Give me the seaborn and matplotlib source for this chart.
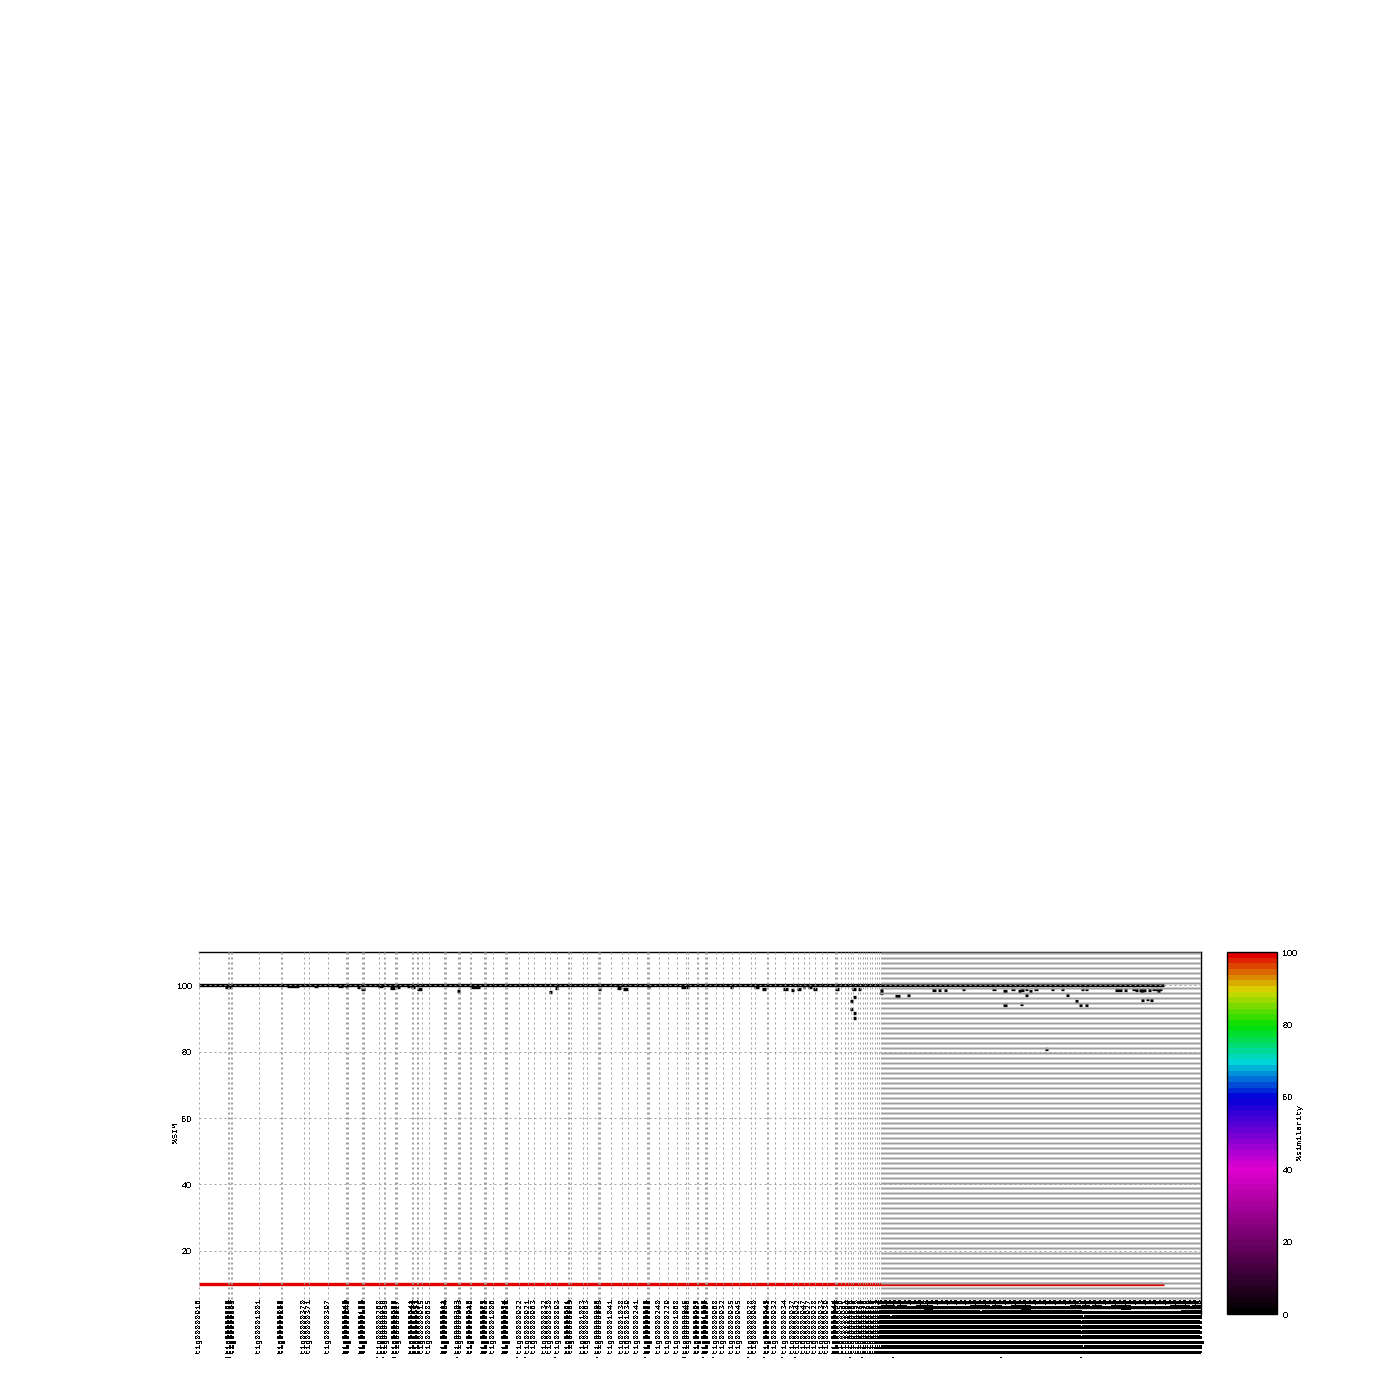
import matplotlib
matplotlib.use("Agg")
import matplotlib.pyplot as plt
from matplotlib.cm import ScalarMappable
from matplotlib.colors import LinearSegmentedColormap, Normalize
import pandas as pd
import seaborn as sns

# Contig boundaries along the query axis (x unit = one pixel of the plot)
tick_pos = [0, 29, 30, 32, 33, 60, 82, 83, 105, 110, 129, 147, 148, 149, 163, 164, 165, 180, 185, 186,
            196, 197, 198, 213, 214, 218, 219, 223, 230, 245, 246, 247, 259, 260, 261, 271, 272, 285, 286, 287,
            294, 306, 307, 308, 320, 329, 335, 346, 351, 358, 369, 370, 372, 384, 388, 399, 400, 401, 412, 423,
            429, 438, 448, 449, 450, 460, 469, 478, 487, 489, 498, 499, 506, 507, 508, 517, 524, 533, 540, 552,
            556, 568, 569, 576, 586, 594, 599, 605, 610, 616, 623, 628, 636, 637, 638, 642, 646, 649, 652, 654,
            659, 661, 664, 666, 668, 671, 673, 676, 678, 680]
# Contig ids: the legible ones, overlapped ones estimated
tick_ids = [916, 863, 880, 889, 895, 1001, 88, 108, 370, 371, 397, 949, 960, 140, 188, 180, 160, 268, 958, 835,
            955, 957, 927, 941, 914, 931, 982, 915, 685, 911, 974, 904, 303, 923, 393, 916, 946, 972, 973, 952,
            1006, 924, 929, 921, 922, 921, 963, 832, 830, 893, 921, 951, 963, 1083, 863, 906, 905, 963, 1041, 1038,
            1039, 241, 962, 959, 988, 240, 229, 1068, 945, 946, 995, 987, 1003, 1005, 1007, 968, 932, 935, 945, 978,
            940, 943, 948, 932, 934, 937, 942, 947, 927, 928, 933, 939, 944, 949, 953, 956, 961, 964, 966, 969,
            970, 971, 975, 976, 977, 979, 980, 981, 983, 984]

# The right-hand part of the axis has a boundary on nearly every pixel
dense_pos = [682, 683, 684, 685, 686, 687, 688, 689, 690, 691, 692, 693, 694, 695, 696, 697, 698, 699, 700, 701,
             702, 703, 704, 705, 706, 707, 708, 709, 710, 711, 712, 713, 714, 715, 716, 717, 718, 719, 720, 721,
             722, 723, 724, 725, 726, 727, 728, 729, 730, 731, 732, 733, 734, 735, 736, 737, 738, 739, 740, 741,
             742, 743, 744, 745, 746, 747, 748, 749, 750, 751, 752, 753, 754, 755, 756, 757, 758, 759, 760, 761,
             762, 763, 764, 765, 766, 767, 768, 769, 770, 771, 772, 773, 774, 775, 776, 777, 778, 779, 780, 781,
             782, 783, 784, 785, 786, 787, 788, 789, 790, 791, 792, 793, 794, 795, 796, 797, 798, 799, 800, 801,
             802, 803, 804, 805, 806, 807, 808, 809, 810, 811, 812, 813, 814, 815, 816, 817, 818, 819, 820, 821,
             822, 823, 824, 825, 826, 827, 828, 829, 830, 831, 832, 833, 834, 835, 836, 837, 838, 839, 840, 841,
             842, 843, 844, 845, 846, 847, 848, 849, 850, 851, 852, 853, 854, 855, 856, 857, 858, 859, 860, 861,
             862, 863, 864, 865, 866, 867, 868, 869, 870, 871, 872, 873, 874, 875, 876, 877, 878, 879, 880, 881,
             882, 883, 884, 885, 886, 887, 888, 889, 890, 891, 892, 893, 894, 895, 896, 897, 898, 899, 900, 901,
             902, 903, 904, 905, 906, 907, 908, 909, 910, 911, 912, 913, 914, 915, 916, 917, 918, 919, 920, 921,
             922, 923, 924, 925, 926, 927, 928, 929, 930, 931, 932, 933, 934, 935, 936, 937, 938, 939, 940, 941,
             942, 943, 944, 945, 946, 947, 948, 949, 950, 951, 952, 953, 954, 955, 956, 957, 958, 959, 960, 961,
             962, 963, 964, 965, 966, 967, 968, 969, 970, 971, 972, 973, 974, 975, 976, 977, 978, 979, 980, 981,
             982, 983, 984, 985, 986, 987, 988, 989, 990, 991, 992, 993, 994, 995, 996, 997, 998, 999, 1000, 1001,
             1002]
# Unreadable in the picture, these ids are estimates
dense_ids = [986, 989, 990, 991, 992, 993, 994, 996, 997, 998, 999, 1000, 1002, 1004, 1008, 1009, 1010, 1011, 1012, 1013,
             1014, 1015, 1016, 1017, 1018, 1019, 1020, 1021, 1022, 1023, 1024, 1025, 1026, 1027, 1028, 1029, 1030, 1031, 1032, 1033,
             1034, 1035, 1036, 1037, 1040, 1042, 1043, 1044, 1045, 1046, 1047, 1048, 1049, 1050, 1051, 1052, 1053, 1054, 1055, 1056,
             1057, 1058, 1059, 1060, 1061, 1062, 1063, 1064, 1065, 1066, 1067, 1069, 1070, 1071, 1072, 1073, 1074, 1075, 1076, 1077,
             1078, 1079, 1080, 1081, 1082, 1084, 1085, 1086, 1087, 1088, 1089, 1090, 1091, 1092, 1093, 1094, 1095, 1096, 1097, 1098,
             1099, 1100, 1101, 1102, 1103, 1104, 1105, 1106, 1107, 1108, 1109, 1110, 1111, 1112, 1113, 1114, 1115, 1116, 1117, 1118,
             1119, 1120, 1121, 1122, 1123, 1124, 1125, 1126, 1127, 1128, 1129, 1130, 1131, 1132, 1133, 1134, 1135, 1136, 1137, 1138,
             1139, 1140, 1141, 1142, 1143, 1144, 1145, 1146, 1147, 1148, 1149, 1150, 1151, 1152, 1153, 1154, 1155, 1156, 1157, 1158,
             1159, 1160, 1161, 1162, 1163, 1164, 1165, 1166, 1167, 1168, 1169, 1170, 1171, 1172, 1173, 1174, 1175, 1176, 1177, 1178,
             1179, 1180, 1181, 1182, 1183, 1184, 1185, 1186, 1187, 1188, 1189, 1190, 1191, 1192, 1193, 1194, 1195, 1196, 1197, 1198,
             1199, 1200, 1201, 1202, 1203, 1204, 1205, 1206, 1207, 1208, 1209, 1210, 1211, 1212, 1213, 1214, 1215, 1216, 1217, 1218,
             1219, 1220, 1221, 1222, 1223, 1224, 1225, 1226, 1227, 1228, 1229, 1230, 1231, 1232, 1233, 1234, 1235, 1236, 1237, 1238,
             1239, 1240, 1241, 1242, 1243, 1244, 1245, 1246, 1247, 1248, 1249, 1250, 1251, 1252, 1253, 1254, 1255, 1256, 1257, 1258,
             1259, 1260, 1261, 1262, 1263, 1264, 1265, 1266, 1267, 1268, 1269, 1270, 1271, 1272, 1273, 1274, 1275, 1276, 1277, 1278,
             1279, 1280, 1281, 1282, 1283, 1284, 1285, 1286, 1287, 1288, 1289, 1290, 1291, 1292, 1293, 1294, 1295, 1296, 1297, 1298,
             1299, 1300, 1301, 1302, 1303, 1304, 1305, 1306, 1307, 1308, 1309, 1310, 1311, 1312, 1313, 1314, 1315, 1316, 1317, 1318,
             1319]
# Boundaries whose label carries the leading star
star_pos = [29, 30, 32, 33, 180, 186, 197, 198, 260, 320, 329, 358, 400, 449, 487, 489, 507, 517, 552, 568,
            586, 599, 654, 666, 697, 805, 884]

# Main alignment at ~100% and reference line at the bottom
main_x = [0, 965]
main_sim = [100, 100]
ref_x = [0, 965]
ref_sim = [10, 10]

# Short alignments below the main line
seg_start = [26, 88, 115, 139, 146, 158, 162, 179, 191, 196, 208, 212, 218, 258, 271, 350, 356, 399, 418, 424,
             448, 482, 531, 555, 563, 584, 592, 598, 604, 609, 614, 636, 653, 659, 681, 681, 696, 708, 733, 739,
             745, 763, 654, 651, 651, 654, 654, 793, 804, 812, 819, 821, 826, 830, 835, 852, 862, 882, 886, 916,
             925, 933, 936, 940, 941, 949, 953, 958, 959, 826, 867, 876, 880, 886, 804, 821, 942, 947, 951, 846]
seg_end = [33, 100, 119, 144, 149, 161, 166, 184, 196, 201, 211, 216, 223, 261, 281, 353, 359, 402, 422, 429,
           451, 490, 534, 560, 567, 589, 595, 602, 606, 613, 618, 640, 657, 662, 684, 684, 701, 711, 737, 742,
           748, 766, 657, 654, 654, 657, 657, 797, 808, 816, 822, 825, 829, 833, 839, 855, 865, 885, 889, 923,
           928, 937, 939, 947, 945, 952, 959, 961, 963, 829, 870, 879, 883, 889, 808, 824, 945, 950, 954, 849]
seg_sim = [99.6, 99.7, 99.7, 99.7, 99.7, 99.4, 98.9, 99.7, 99.2, 99.5, 99.7, 99.5, 98.8, 98.4, 99.6, 98.0, 99.2, 99.0, 99.2, 98.9,
           99.4, 99.6, 99.4, 99.5, 99.0, 98.9, 98.5, 98.9, 99.4, 99.5, 98.9, 98.9, 99.0, 98.9, 98.7, 97.6, 96.9, 97.0, 98.7, 98.5,
           98.5, 99.0, 96.6, 95.2, 92.8, 91.6, 90.1, 98.9, 98.4, 98.9, 98.2, 98.6, 98.9, 98.4, 98.9, 98.9, 98.9, 98.9, 98.9, 98.5,
           98.7, 98.9, 98.7, 98.7, 98.2, 98.7, 98.9, 98.3, 98.8, 97.1, 97.1, 95.3, 94.1, 94.1, 94.1, 94.3, 95.5, 95.9, 95.5, 80.8]

y_ticks = [20, 40, 60, 80, 100]
cbar_ticks = [0, 20, 40, 60, 80, 100]

# Palette stops of the %similarity scale
palette_stops = [(0.0, "#000000"), (0.4, "#e000d0"), (0.6, "#0000d8"), (0.7, "#00d8d8"),
                 (0.8, "#00e000"), (0.9, "#d8d800"), (1.0, "#e00000")]


def main():
    sns.set_theme(style="white")
    # Mono fonts here have a dotted zero that turns into an 8 at this size,
    # so the plain numbers use a sans and only the labels stay mono
    plt.rcParams["font.family"] = "Liberation Sans"
    plt.rcParams["text.antialiased"] = False
    num_size = 6.5
    mono_size = 6.0
    grid_color = "#a0a0a0"

    fig = plt.figure(figsize=(14, 14), dpi=100)
    ax = fig.add_axes([199 / 1400, 1 - 1314 / 1400, 1002 / 1400, 362 / 1400])

    # Alignments, each one drawn as its own short line
    segs = pd.DataFrame({"seg": list(range(len(seg_start))) * 2,
                         "x": seg_start + seg_end,
                         "sim": seg_sim + seg_sim})
    sns.lineplot(data=segs, x="x", y="sim", units="seg", estimator=None, sort=False,
                 color="black", linewidth=2.4, solid_capstyle="butt", ax=ax)
    sns.lineplot(x=main_x, y=main_sim, estimator=None, sort=False,
                 color="black", linewidth=2.4, solid_capstyle="butt", ax=ax)
    sns.lineplot(x=ref_x, y=ref_sim, estimator=None, sort=False,
                 color="#e00000", linewidth=2.4, solid_capstyle="butt", ax=ax)

    ax.set_xlim(0, 1002)
    ax.set_ylim(1, 110)

    all_pos = tick_pos + dense_pos
    all_ids = tick_ids + dense_ids
    labels = []
    for pos, tig in zip(all_pos, all_ids):
        star = "*" if pos in star_pos else ""
        labels.append(f"{star}tig{tig:08d}")
    ax.set_xticks(all_pos, labels, rotation=90, fontsize=mono_size, fontfamily="Liberation Mono")
    ax.set_yticks(y_ticks, [str(v) for v in y_ticks], fontsize=num_size)
    # The labels sit inside the plot area, over the lower end of the grid
    ax.tick_params(axis="x", length=0, pad=-11.5, colors="black")
    ax.tick_params(axis="y", length=0, pad=5, colors="black")

    # Dashed grid sits on top of the data
    ax.set_axisbelow(False)
    ax.grid(True, color=grid_color, linewidth=0.72, linestyle=(0, (2, 3)))

    for side in ["left", "bottom"]:
        ax.spines[side].set_visible(False)
    for side in ["top", "right"]:
        ax.spines[side].set_color("black")
        ax.spines[side].set_linewidth(1.0)

    ax.set_xlabel("")
    ax.set_ylabel("%SIM", fontsize=mono_size, color="black", fontfamily="Liberation Mono")
    ax.yaxis.set_label_coords(-0.019, 0.5)

    # Colour scale
    cax = fig.add_axes([1227 / 1400, 1 - 1314 / 1400, 50 / 1400, 362 / 1400])
    cmap = LinearSegmentedColormap.from_list("simil", palette_stops, N=64)
    cbar = fig.colorbar(ScalarMappable(norm=Normalize(0, 100), cmap=cmap), cax=cax)
    cbar.set_ticks(cbar_ticks, labels=[str(v) for v in cbar_ticks])
    cbar.ax.tick_params(length=0, pad=4, labelsize=num_size, colors="black")
    cbar.outline.set_edgecolor("black")
    cbar.outline.set_linewidth(1.0)
    cax.text(1.46, 0.5, "%similarity", transform=cax.transAxes, rotation=90,
             ha="center", va="center", fontsize=mono_size, color="black", fontfamily="Liberation Mono")

    fig.savefig("out.png", dpi=100)


if __name__ == "__main__":
    main()
